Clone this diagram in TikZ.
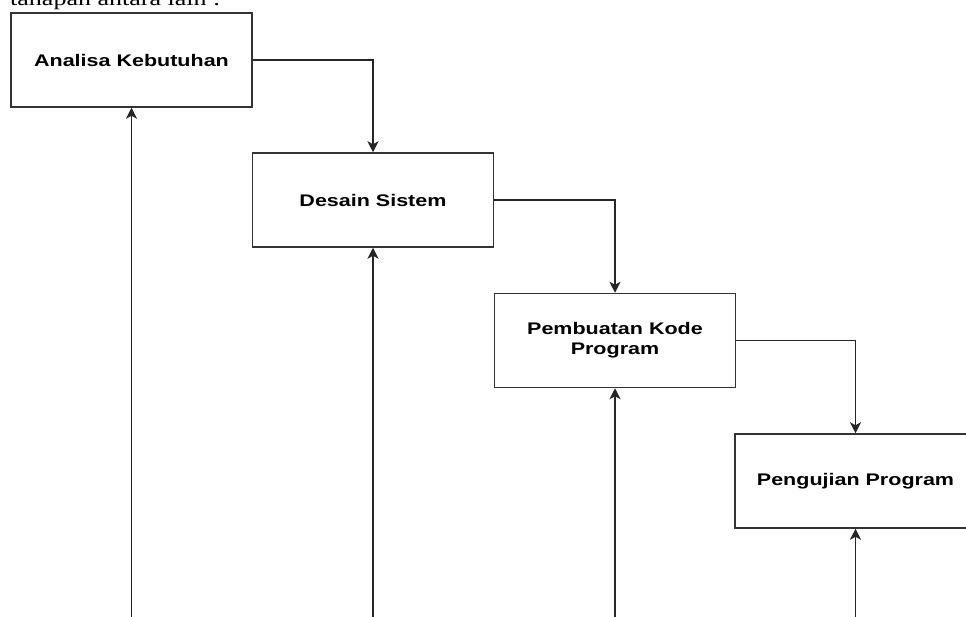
\documentclass[tikz,border=0pt]{standalone}
\usepackage{fontspec}
\setmainfont{Liberation Serif}
\newfontfamily\boxfont[FakeStretch=1.28]{Liberation Sans}
\newfontfamily\introfont[FakeStretch=1.3]{Liberation Serif}
\usetikzlibrary{arrows.meta}

\begin{document}
\begin{tikzpicture}[x=1pt,y=-1pt,
    stage/.style={draw=black!80, line width=1.5pt, fill=white,
      minimum width=241pt, minimum height=94pt, inner sep=0pt, align=center,
      font=\boxfont\bfseries\fontsize{16.8}{20}\selectfont},
    flow/.style={draw=black!85, line width=1.3pt,
      -{Stealth[length=11pt,width=11pt,inset=3pt]}}]
  \useasboundingbox (0,0) rectangle (966,617);
  \clip (0,0) rectangle (966,617);

  \node[anchor=base west, inner sep=0pt,
    font=\introfont\fontsize{20}{24}\selectfont] (intro) at (10,6) {tahapan antara lain :};

  \node[stage] (analisa) at (131.5,60) {Analisa Kebutuhan};
  \node[stage] (desain) at (373,200) {Desain Sistem};
  \node[stage] (kode) at (615,340.5) {Pembuatan Kode\\Program};
  \node[stage] (uji) at (855.5,481) {Pengujian Program};

  \draw[flow] (analisa.east) -| (desain.north);
  \draw[flow] (desain.east) -| (kode.north);
  \draw[flow] (kode.east) -| (uji.north);

  % lines coming up from below the page
  \foreach \n in {analisa,desain,kode,uji} {
    \coordinate (\n0) at (\n.south |- 0,625);
    \draw[flow] (\n0) -- (\n.south);
  }
\end{tikzpicture}
\end{document}
